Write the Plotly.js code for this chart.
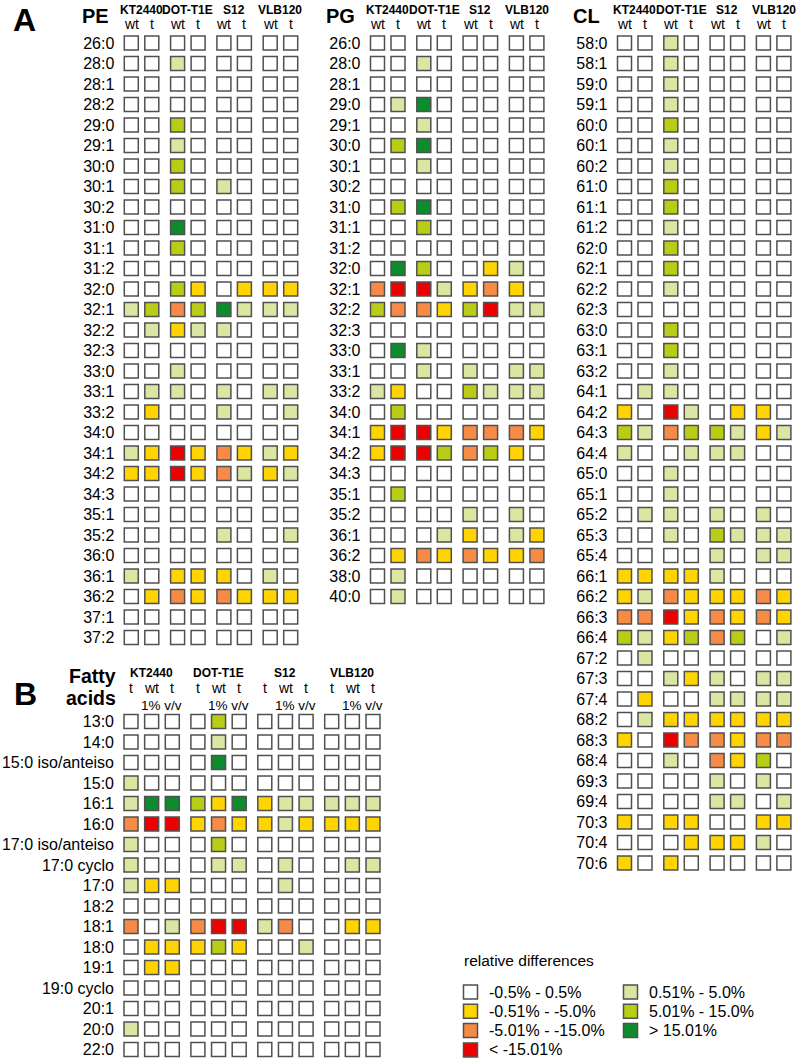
<!DOCTYPE html>
<html><head><meta charset="utf-8">
<script src="https://cdn.plot.ly/plotly-3.0.1.min.js"></script>
<style>html,body{margin:0;padding:0;background:#fff}#chart{width:800px;height:1060px}</style>
</head><body><div id="chart"></div>
<script>
// ---------------- DATA ----------------
// codes: 0 = -0.5..0.5, 1 = 0.51..5.0, 2 = 5.01..15.0, 3 = >15.01,
//       -1 = -0.51..-5.0, -2 = -5.01..-15.0, -3 = < -15.01
const strains = ['KT2440', 'DOT-T1E', 'S12', 'VLB120'];
const condA = ['wt', 't'];
const condB = ['t', 'wt', 't'];

const peRows = ['26:0','28:0','28:1','28:2','29:0','29:1','30:0','30:1','30:2','31:0','31:1','31:2',
  '32:0','32:1','32:2','32:3','33:0','33:1','33:2','34:0','34:1','34:2','34:3','35:1','35:2','36:0',
  '36:1','36:2','37:1','37:2'];
const peValues = [
  [0,0,0,0,0,0,0,0],[0,0,1,0,0,0,0,0],[0,0,0,0,0,0,0,0],[0,0,0,0,0,0,0,0],
  [0,0,2,0,0,0,0,0],[0,0,1,0,0,0,0,0],[0,0,2,0,0,0,0,0],[0,0,2,0,1,0,0,0],
  [0,0,0,0,0,0,0,0],[0,0,3,0,0,0,0,0],[0,0,2,0,0,0,0,0],[0,0,0,0,0,0,0,0],
  [0,0,2,-1,0,-1,-1,-1],[1,2,-2,2,3,1,1,1],[0,1,-1,1,1,0,0,0],[0,0,0,0,0,0,0,0],
  [0,0,1,0,0,0,0,0],[0,1,1,0,1,0,1,1],[0,-1,0,0,1,0,0,1],[0,0,0,0,0,0,0,0],
  [1,-1,-3,-1,-2,-1,1,-1],[-1,-1,-3,-1,-2,1,-1,1],[0,0,0,0,0,0,0,0],[0,0,0,0,0,0,0,0],
  [0,0,0,0,1,0,0,1],[0,0,0,0,0,0,0,0],[1,0,-1,-1,-1,0,1,0],[0,-1,-2,-1,-2,-1,-1,-1],
  [0,0,0,0,0,0,0,0],[0,0,0,0,0,0,0,0]
];

const pgRows = ['26:0','28:0','28:1','29:0','29:1','30:0','30:1','30:2','31:0','31:1','31:2','32:0',
  '32:1','32:2','32:3','33:0','33:1','33:2','34:0','34:1','34:2','34:3','35:1','35:2','36:1','36:2',
  '38:0','40:0'];
const pgValues = [
  [0,0,0,0,0,0,0,0],[0,0,1,0,0,0,0,0],[0,0,0,0,0,0,0,0],[0,1,3,0,0,0,0,0],
  [0,0,1,0,0,0,0,0],[0,2,3,0,0,0,0,0],[0,0,1,0,0,0,0,0],[0,0,0,0,0,0,0,0],
  [0,2,3,0,0,0,0,0],[0,0,2,0,0,0,0,0],[0,0,0,0,0,0,0,0],[0,3,2,0,0,-1,1,0],
  [-2,-3,-3,1,-1,-2,-1,0],[2,-2,-2,-1,2,-3,1,1],[0,0,0,0,0,0,0,0],[0,3,1,0,0,0,0,0],
  [0,0,1,0,1,0,1,1],[1,-1,0,0,2,1,1,1],[0,2,0,0,0,0,0,0],[-1,-3,-3,-1,-2,-2,-2,-1],
  [-1,-3,-3,2,-2,2,-1,0],[0,0,0,0,0,0,0,0],[0,2,0,0,0,0,0,0],[0,0,0,0,1,0,1,0],
  [0,0,0,1,-1,0,1,-1],[0,-1,-2,-1,-2,-1,-1,-2],[0,1,0,0,0,0,0,0],[0,1,0,0,0,0,0,0]
];

const clRows = ['58:0','58:1','59:0','59:1','60:0','60:1','60:2','61:0','61:1','61:2','62:0','62:1',
  '62:2','62:3','63:0','63:1','63:2','64:1','64:2','64:3','64:4','65:0','65:1','65:2','65:3','65:4',
  '66:1','66:2','66:3','66:4','67:2','67:3','67:4','68:2','68:3','68:4','69:3','69:4','70:3','70:4','70:6'];
const clValues = [
  [0,0,1,0,0,0,0,0],[0,0,1,0,0,0,0,0],[0,0,1,0,0,0,0,0],[0,0,1,0,0,0,0,0],
  [0,0,2,0,0,0,0,0],[0,0,1,0,0,0,0,0],[0,0,1,0,0,0,0,0],[0,0,2,0,0,0,0,0],
  [0,0,2,0,0,0,0,0],[0,0,1,0,0,0,0,0],[0,0,2,0,0,0,0,0],[0,0,2,0,0,0,0,0],
  [0,0,1,0,0,0,0,0],[0,0,0,0,0,0,0,0],[0,0,2,0,0,0,0,0],[0,0,2,0,0,0,0,0],
  [0,0,1,0,0,0,0,0],[0,1,1,0,0,0,0,0],[-1,0,-3,1,0,-1,-1,0],[2,1,-2,2,2,1,-1,1],
  [1,0,0,1,1,1,0,0],[0,0,1,0,0,0,0,0],[0,0,1,0,0,0,0,0],[0,1,1,0,1,0,1,0],
  [0,0,1,0,2,1,1,1],[0,0,0,0,1,0,1,1],[-1,-1,-1,-1,1,0,0,0],[-1,1,-2,-1,-1,-1,-2,-1],
  [-2,-2,-3,-1,-2,-1,-2,-1],[2,1,-1,2,-2,2,0,1],[0,1,0,0,0,0,0,0],[0,0,1,-1,1,0,1,1],
  [0,-1,0,0,1,1,1,1],[0,1,-1,-1,-1,-1,-1,-1],[-1,0,-3,-2,-2,-1,-2,-2],[0,0,1,0,-2,-1,2,0],
  [0,0,0,0,1,0,1,0],[0,0,0,0,1,1,0,1],[-1,0,-1,-1,0,0,-1,-1],[0,0,0,-1,-1,-1,1,0],
  [-1,0,-1,0,0,0,0,0]
];

const faRows = ['13:0','14:0','15:0 iso/anteiso','15:0','16:1','16:0','17:0 iso/anteiso','17:0 cyclo',
  '17:0','18:2','18:1','18:0','19:1','19:0 cyclo','20:1','20:0','22:0'];
const faValues = [
  [0,0,0, 0,2,0, 0,0,0, 0,0,0],
  [0,0,0, 0,1,0, 0,0,0, 0,0,0],
  [0,0,0, 0,3,0, 0,0,0, 0,0,0],
  [1,0,0, 0,0,0, 0,0,0, 0,0,0],
  [1,3,3, 2,-1,3, -1,1,1, 1,1,1],
  [-2,-3,-3, -1,-2,-1, -1,1,-1, -1,-1,-1],
  [1,0,0, 0,2,0, 0,0,0, 0,0,0],
  [1,0,0, 0,1,1, 0,1,0, 0,1,1],
  [1,-1,-1, 0,0,0, 0,1,0, 0,0,0],
  [0,0,0, 0,0,0, 0,0,0, 0,0,0],
  [-2,0,1, -2,-3,-3, 1,-2,0, 0,-1,-1],
  [0,-1,-1, -1,2,-1, 0,0,1, 0,0,0],
  [0,-1,-1, 0,0,0, 0,0,0, 0,0,0],
  [0,0,0, 0,0,0, 0,0,0, 0,0,0],
  [0,0,0, 0,0,0, 0,0,0, 0,0,0],
  [1,0,0, 0,0,0, 0,0,0, 0,0,0],
  [0,0,0, 0,0,0, 0,0,0, 0,0,0]
];

const legendTitle = 'relative differences';
const legendLeftCodes = [0, -1, -2, -3];
const legendLeftLabels = ['-0.5% - 0.5%', '-0.51% - -5.0%', '-5.01% - -15.0%', '< -15.01%'];
const legendRightCodes = [1, 2, 3];
const legendRightLabels = ['0.51% - 5.0%', '5.01% - 15.0%', '> 15.01%'];

// ---------------- STYLE ----------------
const W = 800, H = 1060;
const FONT = 'Arial, "Liberation Sans", sans-serif';
const colorOf = {'-3':'#ec0000','-2':'#f68a47','-1':'#ffd400','0':'#ffffff','1':'#dde5a3','2':'#b9cd16','3':'#0c8c2c'};
const BORDER = '#505050';
const CELL = 14;
const ROWH = 20.5;
const px = v => v / W;
const py = v => 1 - v / H;

const data = [];
const annotations = [];
const layout = {
  width: W, height: H, margin: {l:0, r:0, t:0, b:0},
  paper_bgcolor: '#fff', plot_bgcolor: 'rgba(0,0,0,0)',
  showlegend: false, font: {family: FONT, color: '#000'},
  annotations: annotations
};

function txt(t, x, y, size, opts) {
  annotations.push(Object.assign({
    text: t, x: x, y: y, xref: 'paper', yref: 'paper', showarrow: false,
    xanchor: 'center', yanchor: 'middle', font: {family: FONT, size: size, color: '#000'}
  }, opts || {}));
}

function addPanel(idx, rows, values, cfg) {
  const xa = 'x' + idx, ya = 'y' + idx;
  const xKey = 'xaxis' + idx, yKey = 'yaxis' + idx;
  const nSub = cfg.conds.length;
  const colX = k => Math.floor(k / nSub) * cfg.groupGap + (k % nSub) * cfg.subGap;
  const nCols = values[0].length;
  const xs = [], ys = [], cs = [];
  rows.forEach((r, i) => values[i].forEach((v, k) => { xs.push(colX(k)); ys.push(r); cs.push(colorOf[v]); }));
  data.push({
    type: 'scatter', mode: 'markers', x: xs, y: ys, xaxis: xa, yaxis: ya,
    cliponaxis: false, hoverinfo: 'skip',
    marker: {symbol: 'square', size: CELL, color: cs, line: {color: BORDER, width: 1.5}}
  });
  const lastX = colX(nCols - 1);
  layout[xKey] = {
    domain: [px(cfg.x0 - cfg.leftPad), px(cfg.x0 + lastX + 12)],
    range: [-cfg.leftPad, lastX + 12], anchor: ya,
    showgrid: false, zeroline: false, showticklabels: false, showline: false, fixedrange: true
  };
  const top = cfg.y0 - ROWH / 2, bottom = top + rows.length * ROWH;
  layout[yKey] = {
    type: 'category', categoryarray: rows, categoryorder: 'array',
    domain: [py(bottom), py(top)], range: [rows.length - 0.5, -0.5], anchor: xa,
    showgrid: false, zeroline: false, showline: false, ticks: '',
    tickfont: {family: FONT, size: 16, color: '#000'}, fixedrange: true
  };
  // group and condition headers
  strains.forEach((s, g) => {
    const gx = g * cfg.groupGap + (nSub - 1) * cfg.subGap / 2;
    txt('<b>' + s + '</b>', gx, py(cfg.groupY), 12, {xref: xa});
    cfg.conds.forEach((c, j) => {
      txt(c, g * cfg.groupGap + j * cfg.subGap, py(cfg.condY), 14, {xref: xa});
    });
    if (cfg.extra) {
      txt(cfg.extra, g * cfg.groupGap + 1.5 * cfg.subGap, py(cfg.extraY), 13.5, {xref: xa});
    }
  });
}

const cfgA = {conds: condA, groupGap: 46.3, subGap: 20.5, leftPad: 16, y0: 43, groupY: 10, condY: 24};
addPanel(1, peRows, peValues, Object.assign({x0: 131.3}, cfgA));
addPanel(2, pgRows, pgValues, Object.assign({x0: 377.5}, cfgA));
addPanel(3, clRows, clValues, Object.assign({x0: 624.5}, cfgA));
addPanel(4, faRows, faValues, {conds: condB, groupGap: 66.9, subGap: 20.65, leftPad: 16, x0: 131,
  y0: 721.5, groupY: 673, condY: 688, extra: '1% v/v', extraY: 705});

// panel titles
txt('<b>A</b>', px(24), py(20), 32);
txt('<b>PE</b>', px(95), py(16), 20);
txt('<b>PG</b>', px(340), py(16), 20);
txt('<b>CL</b>', px(586), py(16), 20);
txt('<b>B</b>', px(25), py(694), 32);
txt('<b>Fatty</b>', px(118), py(676), 19.5, {xanchor: 'right'});
txt('<b>acids</b>', px(118), py(698), 19.5, {xanchor: 'right'});

// legend (drawn as markers on its own axes)
const LROW = 19.3, LTOP = 992 - LROW / 2;
const lx = [], ly = [], lc = [];
legendLeftCodes.forEach((c, i) => { lx.push(0); ly.push(i); lc.push(colorOf[c]); });
legendRightCodes.forEach((c, i) => { lx.push(1); ly.push(i); lc.push(colorOf[c]); });
data.push({
  type: 'scatter', mode: 'markers', x: lx, y: ly, xaxis: 'x5', yaxis: 'y5', cliponaxis: false,
  hoverinfo: 'skip', marker: {symbol: 'square', size: CELL, color: lc, line: {color: BORDER, width: 1.5}}
});
layout.xaxis5 = {domain: [px(455), px(800)], range: [(455 - 470.5) / 160, (800 - 470.5) / 160], anchor: 'y5',
  visible: false, fixedrange: true};
layout.yaxis5 = {domain: [py(LTOP + 4 * LROW), py(LTOP)], range: [3.5, -0.5], anchor: 'x5',
  visible: false, fixedrange: true};
legendLeftLabels.forEach((t, i) => txt(t, 0, i, 16, {xref: 'x5', yref: 'y5', xanchor: 'left', xshift: 16}));
legendRightLabels.forEach((t, i) => txt(t, 1, i, 16, {xref: 'x5', yref: 'y5', xanchor: 'left', xshift: 16}));
txt(legendTitle, px(462), py(960), 15.5, {xanchor: 'left'});

Plotly.newPlot('chart', data, layout, {displayModeBar: false, staticPlot: true});
</script>
</body></html>
